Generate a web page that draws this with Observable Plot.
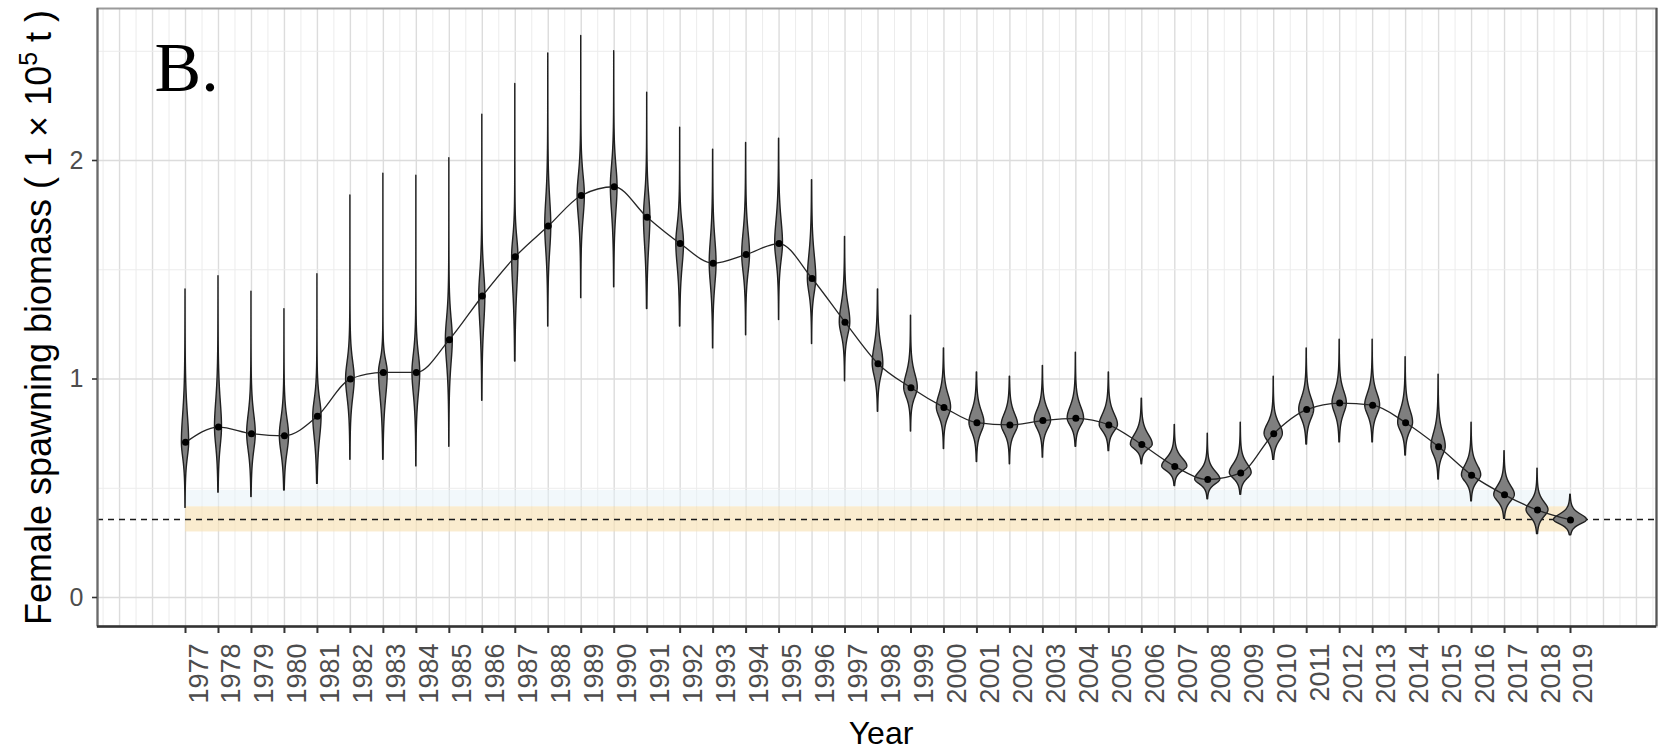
<!DOCTYPE html>
<html>
<head>
<meta charset="utf-8">
<script src="https://cdn.jsdelivr.net/npm/d3@7"></script>
<script src="https://cdn.jsdelivr.net/npm/@observablehq/plot@0.6"></script>
<style>
  html, body { margin: 0; padding: 0; background: #ffffff; }
  svg { display: block; }
</style>
</head>
<body>
<script>
// ---------------- data ----------------
const years = [1977,1978,1979,1980,1981,1982,1983,1984,1985,1986,1987,1988,1989,1990,
  1991,1992,1993,1994,1995,1996,1997,1998,1999,2000,2001,2002,2003,2004,2005,2006,
  2007,2008,2009,2010,2011,2012,2013,2014,2015,2016,2017,2018,2019];
// median of the posterior of female spawning biomass (1e5 t)
const medians = [0.71,0.78,0.75,0.74,0.83,1.00,1.03,1.03,1.18,1.38,1.56,1.70,1.84,1.88,
  1.74,1.62,1.53,1.57,1.62,1.46,1.26,1.07,0.96,0.87,0.80,0.79,0.81,0.82,0.79,0.70,
  0.60,0.54,0.57,0.75,0.86,0.89,0.88,0.80,0.69,0.56,0.47,0.40,0.355];
// upper end of each violin (tail tip)
const uppers = [1.41,1.47,1.40,1.32,1.48,1.84,1.94,1.93,2.01,2.21,2.35,2.49,2.57,2.50,
  2.31,2.15,2.05,2.08,2.10,1.91,1.65,1.41,1.29,1.14,1.03,1.01,1.06,1.12,1.03,0.91,
  0.79,0.75,0.80,1.01,1.14,1.18,1.18,1.10,1.02,0.80,0.67,0.59,0.47];
// lower end of each violin (tail tip)
const lowers = [0.41,0.48,0.46,0.49,0.52,0.63,0.63,0.60,0.69,0.90,1.08,1.24,1.37,1.42,
  1.32,1.24,1.14,1.20,1.27,1.16,0.99,0.85,0.76,0.68,0.62,0.61,0.64,0.69,0.67,0.61,
  0.51,0.45,0.47,0.63,0.70,0.71,0.71,0.65,0.54,0.44,0.36,0.29,0.285];
// extent of the thick grey body of each violin
const bodyLows = [0.55,0.58,0.57,0.56,0.60,0.80,0.77,0.80,0.93,1.08,1.22,1.44,1.60,1.61,
  1.44,1.38,1.30,1.38,1.44,1.31,1.13,0.94,0.86,0.77,0.70,0.70,0.72,0.74,0.72,0.65,
  0.55,0.49,0.51,0.67,0.76,0.78,0.78,0.71,0.60,0.49,0.40,0.33,0.31];
const bodyHighs = [1.00,1.05,0.95,0.92,1.00,1.18,1.15,1.22,1.40,1.62,1.75,1.98,2.05,2.10,
  1.96,1.81,1.78,1.80,1.86,1.70,1.44,1.25,1.10,1.00,0.92,0.90,0.92,0.94,0.90,0.80,
  0.68,0.62,0.66,0.85,0.98,1.01,1.00,0.93,0.83,0.66,0.56,0.48,0.41];
// reference point (dashed line) and its band
const refLine = [0.357];
const refBand = [0.30, 0.415];
const upperBand = [0.415, 0.49];
const yTicks = [0, 1, 2];
const xTickLabels = years.map(String);

// ---------------- layout ----------------
const W = 1658, H = 750;
const mL = 97, mR = 2, mT = 8, mB = 124;
const xDomain = [1974.331, 2021.608];
const yDomain = [-0.1327, 2.6957];

// table of summaries
const rows = years.map((year, i) => ({year, med: medians[i], hi: uppers[i], lo: lowers[i],
  bl: bodyLows[i], bh: bodyHighs[i]}));

// violin outlines: two-piece heavy-tailed density around the median, body from bodyLow/bodyHigh,
// trimmed at the tail tips; equal area per year (ggplot scale = "area")
const NU = 4, N = 160;
const shapes = rows.map(r => {
  const sl = (r.med - r.bl) / 2, su = (r.bh - r.med) / 2;
  const ys = [];
  for (let k = 0; k <= N; k++) ys.push(r.lo + (r.hi - r.lo) * k / N);
  ys.push(r.med); ys.sort((a, b) => a - b);
  const w = ys.map(y => {
    const t = y < r.med ? (r.med - y) / sl : (y - r.med) / su;
    return Math.pow(1 + t * t / NU, -(NU + 1) / 2);
  });
  let area = 0;
  for (let k = 1; k < ys.length; k++) area += (w[k] + w[k - 1]) / 2 * (ys[k] - ys[k - 1]);
  return ys.map((y, k) => ({year: r.year, y, d: w[k] / area}));
});
const maxD = d3.max(shapes.flat(), d => d.d);
const violin = shapes.flat().map(d => ({...d, hw: 0.5 * d.d / maxD}));

const minorX = d3.range(1974.5, 2021.6, 1);
const majorX = d3.range(1975, 2021.6, 1);

const font = "'Liberation Sans', Arial, Helvetica, sans-serif";
const yTitle = "Female spawning biomass ( 1 × 10^5 t )";

const chart = Plot.plot({
  width: W, height: H,
  marginLeft: mL, marginRight: mR, marginTop: mT, marginBottom: mB,
  style: {fontFamily: font, background: "#ffffff", overflow: "visible"},
  x: {domain: xDomain, axis: null},
  y: {domain: yDomain, axis: null},
  marks: [
    // grid
    Plot.ruleX(minorX, {stroke: "#ececec", strokeWidth: 1}),
    Plot.ruleX(majorX, {stroke: "#dcdcdc", strokeWidth: 1.4}),
    Plot.ruleY([0.5, 1.5, 2.5], {stroke: "#ececec", strokeWidth: 1}),
    Plot.ruleY(yTicks, {stroke: "#dcdcdc", strokeWidth: 1.4}),
    // bands
    Plot.rect([upperBand], {x1: () => years[0], x2: () => years[years.length - 1], y1: d => d[0], y2: d => d[1], fill: "#e6f1f8", fillOpacity: 0.5}),
    Plot.rect([refBand], {x1: () => years[0], x2: () => years[years.length - 1], y1: d => d[0], y2: d => d[1], fill: "#f8e2b6", fillOpacity: 0.65}),
    Plot.ruleY(refLine, {stroke: "#1a1a1a", strokeWidth: 1.6, strokeDasharray: "6,5"}),
    // violins
    Plot.areaX(violin, {x1: d => d.year - d.hw, x2: d => d.year + d.hw, y: "y", z: "year",
      fill: "#7f7f7f", stroke: "#1f1f1f", strokeWidth: 1.4, curve: "linear"}),
    // median line and points
    Plot.line(rows, {x: "year", y: "med", stroke: "#262626", strokeWidth: 1.3, curve: "monotone-x"}),
    Plot.dot(rows, {x: "year", y: "med", r: 3.5, fill: "#000000", stroke: "none"}),
    // frame
    Plot.frame({stroke: "#9a9a9a", strokeWidth: 2}),
    Plot.ruleX([xDomain[0]], {stroke: "#6a6a6a", strokeWidth: 2}),
    Plot.ruleX([xDomain[1]], {stroke: "#555555", strokeWidth: 2}),
    Plot.ruleY([yDomain[0]], {stroke: "#333333", strokeWidth: 2.6}),
    // axes
    Plot.axisY({ticks: yTicks, tickSize: 5, tickPadding: 9, fontSize: 25, fill: "#4d4d4d",
      stroke: "#333333", strokeWidth: 1.6, tickFormat: d => String(d), label: null}),
    Plot.axisX({ticks: years, tickSize: 7, tickPadding: 0, stroke: "#333333", strokeWidth: 2,
      tickFormat: () => "", label: null}),
    Plot.text(xTickLabels, {x: d => +d, text: d => d, frameAnchor: "bottom", rotate: -90,
      textAnchor: "end", lineAnchor: "bottom", dx: 22, dy: 17, fontSize: 27, fill: "#4d4d4d"}),
    // titles
    Plot.text([yTitle], {frameAnchor: "left", dx: -47, dy: 0, rotate: -90,
      textAnchor: "middle", lineAnchor: "bottom", fontSize: 36, fill: "#000000"}),
    Plot.text(["Year"], {frameAnchor: "bottom", dx: 4, dy: 117, lineAnchor: "bottom", fontSize: 32, fill: "#000000"}),
    Plot.text(["B."], {frameAnchor: "top-left", dx: 57, dy: 82, lineAnchor: "bottom", textAnchor: "start",
      fontSize: 70, fontFamily: "'Liberation Serif', 'Times New Roman', serif", fill: "#000000"})
  ]
});
document.body.append(chart);

// superscript for the y-axis title
for (const t of chart.querySelectorAll("text")) {
  if (t.textContent === yTitle) {
    t.textContent = "";
    const ns = "http://www.w3.org/2000/svg";
    const a = document.createElementNS(ns, "tspan"); a.textContent = "Female spawning biomass ( 1 × 10";
    const b = document.createElementNS(ns, "tspan"); b.textContent = "5";
    b.setAttribute("dy", "-14"); b.setAttribute("font-size", "25");
    const c = document.createElementNS(ns, "tspan"); c.textContent = " t )";
    c.setAttribute("dy", "14");
    t.append(a, b, c);
  }
}
</script>
</body>
</html>
